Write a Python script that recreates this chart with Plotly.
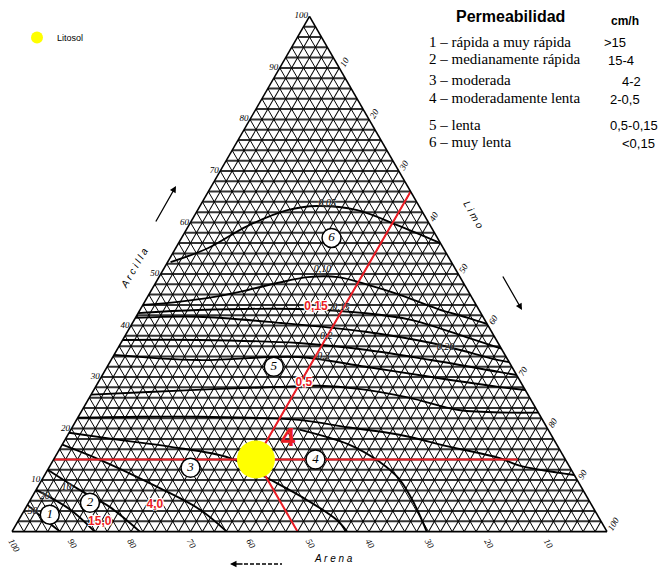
import plotly.graph_objects as go

SERIF = "Liberation Serif"
SANS = "Liberation Sans"

# Sample plotted on the diagram (percent)
sample_name = "Litosol"
sample_clay = [14]
sample_silt = [34]
sample_sand = [52]

# Red guide lines through the sample (clay %, silt %; sand is the remainder)
guide_h_clay = [14, 14]
guide_h_silt = [0, 78]
guide_up_clay = [14, 66]
guide_up_silt = [34, 34]
guide_down_clay = [14, 0]
guide_down_silt = [34, 48]

# Permeability isolines (clay %, silt %)
iso_005_clay = [52.3, 55.0, 59.3, 62.4, 63.2, 62.4, 59.5, 56.0]
iso_005_silt = [0.5, 5.4, 9.9, 15.1, 19.7, 26.8, 35.0, 44.0]
iso_010_clay = [44.0, 44.6, 45.5, 46.9, 48.3, 49.4, 49.4, 47.9, 46.1, 43.2, 41.5, 40.3]
iso_010_silt = [0.0, 5.6, 11.0, 16.2, 20.6, 25.0, 30.1, 35.9, 41.8, 50.0, 55.9, 59.7]
iso_015_clay = [42.4, 43.0, 43.2, 42.4, 41.1, 37.8, 35.5]
iso_015_silt = [0.0, 9.8, 26.5, 38.1, 46.5, 57.3, 64.5]
iso_020_clay = [41.5, 41.7, 40.5, 38.8, 36.6, 33.3, 32.9]
iso_020_silt = [0.0, 10.4, 25.0, 40.0, 52.2, 65.1, 67.1]
iso_030_clay = [37.2, 37.2, 36.6, 35.3, 33.3, 31.0, 30.4]
iso_030_silt = [0.0, 12.7, 29.8, 41.7, 53.8, 66.3, 69.6]
iso_040_clay = [34.3, 33.3, 33.9, 32.0, 30.0, 28.1, 27.5]
iso_040_silt = [0.0, 14.7, 31.2, 43.4, 55.5, 67.7, 72.5]
iso_050_clay = [26.6, 27.1, 27.7, 28.1, 28.3, 27.7, 26.0, 23.6, 23.1, 23.1]
iso_050_silt = [0.0, 9.4, 20.9, 30.8, 37.4, 44.4, 53.7, 63.3, 72.0, 76.9]
iso_100_clay = [22.1, 22.3, 22.3, 22.1, 21.7, 20.2, 18.8, 16.5, 14.3, 12.8, 11.0]
iso_100_silt = [0.0, 10.2, 20.3, 28.8, 37.4, 46.6, 55.7, 65.2, 74.7, 78.9, 89.0]
iso_200_clay = [19.2, 17.8, 16.5, 14.3, 10.5, 6.2, 2.3, 0.0]
iso_200_silt = [0.0, 9.1, 18.2, 29.4, 37.5, 46.4, 53.4, 56.3]
iso_300_clay = [19.8, 16.9, 13.6, 10.1, 5.2, 0.0]
iso_300_silt = [38.4, 48.2, 54.9, 60.1, 65.1, 69.7]
iso_400_clay = [16.9, 14.0, 8.5, 4.3, 0.0]
iso_400_silt = [0.0, 7.7, 20.5, 29.4, 36.1]
iso_1500_clay = [12.0, 8.1, 4.8, 0.0]
iso_1500_silt = [0.0, 7.3, 14.0, 21.5]
iso_2000_clay = [8.1, 4.3, 0.0]
iso_2000_silt = [0.0, 7.6, 13.9]
iso_3000_clay = [5.2, 2.3, 0.0]
iso_3000_silt = [0.0, 4.4, 8.1]

isolines = [
    (iso_005_clay, iso_005_silt), (iso_010_clay, iso_010_silt),
    (iso_015_clay, iso_015_silt), (iso_020_clay, iso_020_silt),
    (iso_030_clay, iso_030_silt), (iso_040_clay, iso_040_silt),
    (iso_050_clay, iso_050_silt), (iso_100_clay, iso_100_silt),
    (iso_200_clay, iso_200_silt), (iso_300_clay, iso_300_silt),
    (iso_400_clay, iso_400_silt), (iso_1500_clay, iso_1500_silt),
    (iso_2000_clay, iso_2000_silt), (iso_3000_clay, iso_3000_silt),
]

# Permeability class numbers and where they sit
zone_text = ["1", "2", "3", "4", "5", "6"]
zone_clay = [3.3, 5.6, 12.4, 14.0, 32.0, 57.0]
zone_silt = [4.7, 10.3, 23.8, 44.0, 28.0, 25.2]

# Isoline value labels (black)
iso_text = ["0,05", "0,10", "0,15", "0,2", "0,3", "0,20", "50", "20", "10"]
iso_text_clay = [63.6, 50.8, 43.4, 37.8, 33.9, 35.7, 3.9, 6.8, 8.5]
iso_text_silt = [21.2, 26.8, 33.6, 33.9, 35.4, 55.0, 1.5, 2.1, 4.9]

# Values read at the sample (red)
red_text = ["0,15", "0,5", "4,0", "15,0"]
red_text_clay = [43.6, 28.9, 5.2, 1.9]
red_text_silt = [29.3, 34.6, 21.4, 13.8]
class_text = ["4"]
class_text_clay = [17.8]
class_text_silt = [37.5]

# Legend table
perm_rows = ["1 – rápida a muy rápida", "2 – medianamente rápida", "3 – moderada",
             "4 – moderadamente lenta", "5 – lenta", "6 – muy lenta"]
perm_values = [">15", "15-4", "4-2", "2-0,5", "0,5-0,15", "<0,15"]

grid_vals = list(range(0, 101, 2))


def tick_text(vals):
    return [str(v) if v % 10 == 0 and v > 0 else "" for v in vals]


fig = go.Figure()

for clay, silt in isolines:
    fig.add_trace(go.Scatterternary(
        a=clay, c=silt, mode="lines", showlegend=False, hoverinfo="skip",
        line=dict(color="black", width=1.9, shape="spline", smoothing=1.0)))

for clay, silt in [(guide_h_clay, guide_h_silt), (guide_up_clay, guide_up_silt),
                   (guide_down_clay, guide_down_silt)]:
    fig.add_trace(go.Scatterternary(
        a=clay, c=silt, mode="lines", showlegend=False, hoverinfo="skip",
        line=dict(color="#ec1c24", width=2)))

fig.add_trace(go.Scatterternary(
    a=zone_clay, c=zone_silt, mode="markers+text", text=zone_text,
    showlegend=False, hoverinfo="skip",
    marker=dict(size=19, color="white", line=dict(color="black", width=1.5)),
    textfont=dict(family=SERIF, size=13, color="black", style="italic")))

fig.add_trace(go.Scatterternary(
    a=iso_text_clay, c=iso_text_silt, mode="text", text=iso_text,
    showlegend=False, hoverinfo="skip",
    textfont=dict(family=SERIF, size=10, color="black", style="italic",
                  shadow="0px 0px 2px white")))

fig.add_trace(go.Scatterternary(
    a=red_text_clay, c=red_text_silt, mode="text", text=red_text,
    showlegend=False, hoverinfo="skip",
    textfont=dict(family=SANS, size=12, color="#ec1c24", weight="bold",
                  shadow="1px 1px 0px white, -1px -1px 0px white, 1px -1px 0px white, -1px 1px 0px white")))

fig.add_trace(go.Scatterternary(
    a=class_text_clay, c=class_text_silt, mode="text", text=class_text,
    showlegend=False, hoverinfo="skip",
    textfont=dict(family=SANS, size=26, color="#ec1c24", weight="bold")))

fig.add_trace(go.Scatterternary(
    a=sample_clay, b=sample_sand, c=sample_silt, mode="markers", name=sample_name,
    marker=dict(size=38, color="#ffff00", line=dict(width=0))))

axis_common = dict(
    tickmode="array", tickvals=grid_vals, ticktext=tick_text(grid_vals),
    ticks="", showline=True, linecolor="black", linewidth=1.6,
    title=dict(text=""),
    tickfont=dict(family=SERIF, size=9, color="black", style="italic"),
)

fig.update_layout(
    width=662, height=574,
    margin=dict(l=0, r=0, t=0, b=0),
    paper_bgcolor="white",
    font=dict(family=SANS, color="black"),
    ternary=dict(
        sum=100,
        bgcolor="white",
        domain=dict(x=[12 / 662, 607 / 662], y=[42 / 574, 558 / 574]),
        aaxis=dict(**axis_common, gridcolor="#333333", gridwidth=1.8),
        baxis=dict(**axis_common, gridcolor="black", gridwidth=1.2, tickangle=60),
        caxis=dict(**axis_common, gridcolor="black", gridwidth=1.2, tickangle=-60),
    ),
    showlegend=True,
    legend=dict(x=17 / 662, y=1 - 23 / 574, xanchor="left", yanchor="top",
                bgcolor="rgba(0,0,0,0)", itemsizing="constant", itemwidth=30,
                font=dict(family=SANS, size=9, color="black")),
)

ann = []


def px(x, y):
    return x / 662, 1 - y / 574


# Title of the table and units
x, y = px(511, 17)
ann.append(dict(x=x, y=y, text="<b>Permeabilidad</b>", showarrow=False,
                font=dict(family=SANS, size=16), xanchor="center", yanchor="middle"))
x, y = px(625, 21)
ann.append(dict(x=x, y=y, text="<b>cm/h</b>", showarrow=False,
                font=dict(family=SANS, size=12), xanchor="center", yanchor="middle"))
row_y = [42, 59, 80, 98, 125, 142]
val_x = [615, 621, 631, 625, 634, 638]
for txt, val, ry, vx in zip(perm_rows, perm_values, row_y, val_x):
    x, y = px(427, ry)
    ann.append(dict(x=x, y=y, text=txt, showarrow=False, xanchor="left", yanchor="middle",
                    font=dict(family=SERIF, size=15)))
    x, y = px(vx, ry + 1)
    ann.append(dict(x=x, y=y, text=val, showarrow=False, xanchor="center", yanchor="middle",
                    font=dict(family=SANS, size=13)))

# Axis names
x, y = px(116, 268)
ann.append(dict(x=x, y=y, text="A r c i l l a", showarrow=False, textangle=-60,
                font=dict(family=SANS, size=10, style="italic")))
x, y = px(488, 215)
ann.append(dict(x=x, y=y, text="L i m o", showarrow=False, textangle=60,
                font=dict(family=SANS, size=10, style="italic")))
x, y = px(333, 566)
ann.append(dict(x=x, y=y, text="A r e n a", showarrow=False,
                font=dict(family=SANS, size=10, style="italic")))

# Direction arrows
x, y = px(176, 186)
ann.append(dict(x=x, y=y, text="", showarrow=True, arrowhead=2, arrowwidth=1.3,
                arrowcolor="black", arrowsize=1, axref="pixel", ayref="pixel",
                ax=-21, ay=37))
x, y = px(522, 310)
ann.append(dict(x=x, y=y, text="", showarrow=True, arrowhead=2, arrowwidth=1.3,
                arrowcolor="black", arrowsize=1, axref="pixel", ayref="pixel",
                ax=-20, ay=-35))
x, y = px(230, 564)
ann.append(dict(x=x, y=y, text="", showarrow=True, arrowhead=2, arrowwidth=1.3,
                arrowcolor="black", arrowsize=1, axref="pixel", ayref="pixel",
                ax=14, ay=0))
fig.update_layout(annotations=ann)

x0, y0 = px(244, 564)
x1, y1 = px(282, 564)
fig.add_shape(type="line", xref="paper", yref="paper", x0=x0, y0=y0, x1=x1, y1=y1,
              line=dict(color="black", width=1.3, dash="4px,2px"))

fig.write_html("out.html")
